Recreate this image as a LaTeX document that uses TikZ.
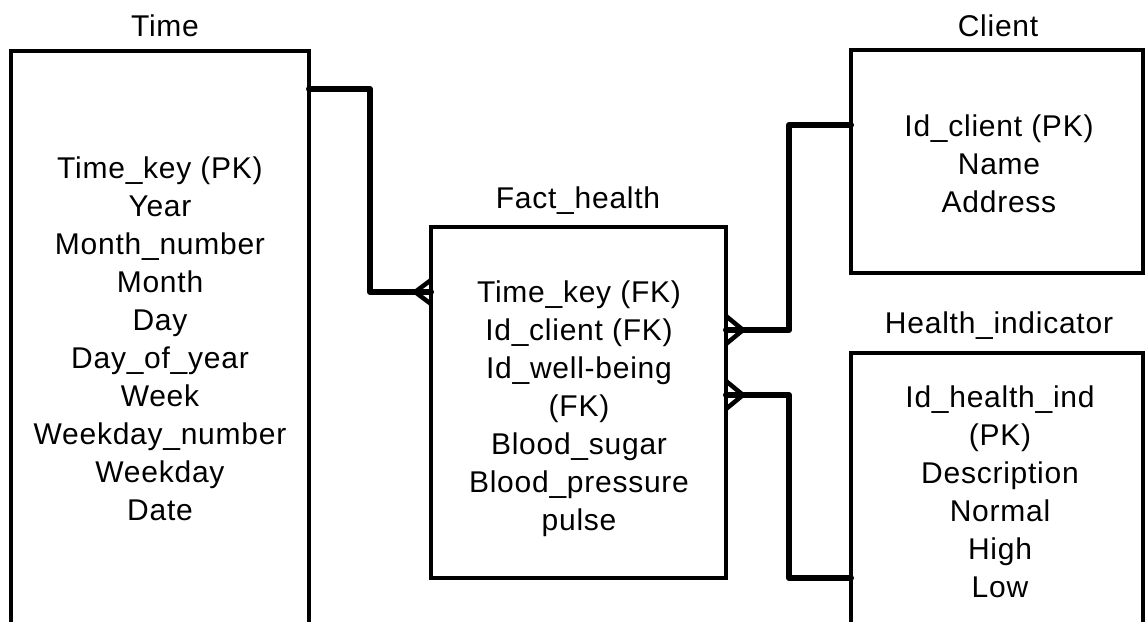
\documentclass[tikz,border=0pt]{standalone}
\usepackage{fontspec}
\setmainfont[LetterSpace=2.5]{Liberation Sans}
\usetikzlibrary{calc,shadows}

\tikzset{
  table/.style={draw=black, line width=4pt, fill=white, inner sep=0pt, outer sep=0pt,
    anchor=north west, drop shadow={shadow xshift=2pt, shadow yshift=-2pt, opacity=0.22, fill=black}},
  title/.style={anchor=base, inner sep=0pt, font=\fontsize{30}{38}\selectfont},
  % multi-line nodes: the base anchor sits on the last line's baseline
  fields/.style={anchor=base, inner sep=0pt, align=center, font=\fontsize{30}{38}\selectfont},
  conn/.style={line width=6pt, line cap=round, line join=round},
  crowfoot/.style={line width=4.5pt, line join=miter, line cap=butt}
}

\begin{document}
\begin{tikzpicture}[x=1pt, y=-1pt]
  \useasboundingbox (0,0) rectangle (1145,621);
  \clip (0,0) rectangle (1145,621);

  % entity boxes (Time and Health_indicator run past the lower edge)
  \node[table, minimum width=298pt, minimum height=640pt] (time)   at (11,51)   {};
  \node[table, minimum width=295pt, minimum height=351pt] (fact)   at (431,227) {};
  \node[table, minimum width=292pt, minimum height=223pt] (client) at (851,50)  {};
  \node[table, minimum width=292pt, minimum height=360pt] (health) at (851,353) {};

  % table names
  \node[title] (timeT)   at (165,36)  {Time};
  \node[title] (factT)   at (578,208) {Fact\_health};
  \node[title] (clientT) at (998,36)  {Client};
  \node[title] (healthT) at (999,333) {Health\_indicator};

  % attribute lists
  \node[fields] (timeF) at (160,520) {Time\_key (PK)\\Year\\Month\_number\\Month\\Day\\Day\_of\_year\\Week\\Weekday\_number\\Weekday\\Date};
  \node[fields] (factF) at (579,530) {Time\_key (FK)\\Id\_client (FK)\\Id\_well-being\\(FK)\\Blood\_sugar\\Blood\_pressure\\pulse};
  \node[fields] (clientF) at (999,212) {Id\_client (PK)\\Name\\Address};
  \node[fields] (healthF) at (1000,597) {Id\_health\_ind\\(PK)\\Description\\Normal\\High\\Low};

  % connector end points on the box sides
  \coordinate (tOut) at ($(time.north east)+(0,38)$);
  \coordinate (fT)   at ($(fact.north west)+(0,65)$);
  \coordinate (fC)   at ($(fact.north east)+(0,103)$);
  \coordinate (fH)   at ($(fact.north east)+(0,168)$);
  \coordinate (cIn)  at ($(client.north west)+(0,75)$);
  \coordinate (hIn)  at ($(health.north west)+(0,225)$);

  % relationships
  \draw[conn] (tOut) -- ++(61,0) |- (fT);
  \draw[conn] (fC) -- ++(63,0) |- (cIn);
  \draw[conn] (fH) -- ++(63,0) |- (hIn);

  % crow's feet (many side) at the fact table
  \draw[crowfoot] ($(fT)+(0,-12)$) -- ($(fT)+(-16,0)$) -- ($(fT)+(0,12)$);
  \draw[crowfoot] ($(fC)+(0,-14)$) -- ($(fC)+(17,0)$) -- ($(fC)+(0,14)$);
  \draw[crowfoot] ($(fH)+(0,-14)$) -- ($(fH)+(17,0)$) -- ($(fH)+(0,14)$);
\end{tikzpicture}
\end{document}
